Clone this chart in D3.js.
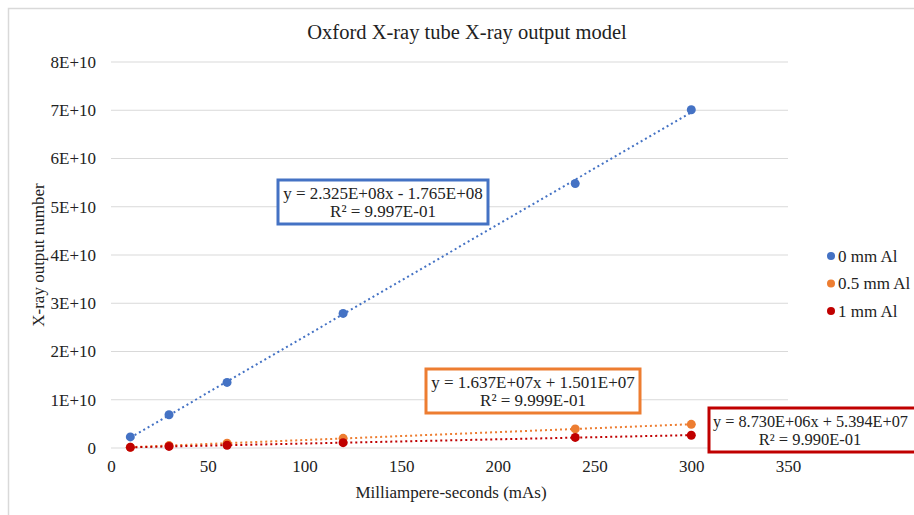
<!DOCTYPE html>
<html><head><meta charset="utf-8">
<script src="https://cdn.jsdelivr.net/npm/d3@7"></script>
<style>body{margin:0;background:#fff}svg{display:block}svg text{font-family:"Liberation Serif","DejaVu Serif",serif !important;fill:#222}</style>
</head><body><svg id="c" width="914" height="515"></svg>
<script>
const mas = [10, 30, 60, 120, 240, 300];
const seriesNames = ["0 mm Al", "0.5 mm Al", "1 mm Al"];
const seriesColors = ["#4472C4", "#ED7D31", "#C00000"];
const al0 = [2.3e9, 6.9e9, 13.6e9, 27.9e9, 54.8e9, 70.1e9];
const al05 = [0.17e9, 0.5e9, 1.0e9, 2.0e9, 3.95e9, 4.9e9];
const al1 = [0.13e9, 0.33e9, 0.57e9, 1.1e9, 2.2e9, 2.65e9];
const slopes = [2.325e8, 1.637e7, 8.730e6];
const intercepts = [-1.765e8, 1.501e7, 5.394e7];
const eqLabels = ["y = 2.325E+08x - 1.765E+08", "y = 1.637E+07x + 1.501E+07", "y = 8.730E+06x + 5.394E+07"];
const r2Labels = ["R² = 9.997E-01", "R² = 9.999E-01", "R² = 9.990E-01"];
const xTicks = [0, 50, 100, 150, 200, 250, 300, 350];
const yTicks = [0, 1e10, 2e10, 3e10, 4e10, 5e10, 6e10, 7e10, 8e10];
const yTickLabels = ["0", "1E+10", "2E+10", "3E+10", "4E+10", "5E+10", "6E+10", "7E+10", "8E+10"];

const FONT = "'Liberation Serif','DejaVu Serif',serif";
const svg = d3.select("#c");
const x = d3.scaleLinear().domain([0, 350]).range([111, 788]);
const y = d3.scaleLinear().domain([0, 8e10]).range([448, 62]);

svg.append("path").attr("d", "M8.5,515 V8.5 H914").attr("fill", "none").attr("stroke", "#d9d9d9").attr("stroke-width", 1.5);

svg.append("g").selectAll("line").data(yTicks).join("line")
  .attr("x1", x(0)).attr("x2", x(350)).attr("y1", d => y(d)).attr("y2", d => y(d))
  .attr("stroke", "#d9d9d9").attr("stroke-width", 1);

const yAxis = svg.append("g").attr("transform", `translate(${x(0)},0)`)
  .call(d3.axisLeft(y).tickValues(yTicks).tickFormat((d, i) => yTickLabels[i]).tickSize(0).tickPadding(15));
yAxis.attr("font-family", null).attr("font-size", null);
yAxis.select(".domain").remove();
yAxis.selectAll("text").style("font-size", "17px").style("font-family", FONT).attr("fill", "#222");

const xAxis = svg.append("g").attr("transform", `translate(0,${y(0)})`)
  .call(d3.axisBottom(x).tickValues(xTicks).tickFormat(d3.format("d")).tickSize(0).tickPadding(12));
xAxis.attr("font-family", null).attr("font-size", null);
xAxis.select(".domain").remove();
xAxis.selectAll("text").style("font-size", "17px").style("font-family", FONT).attr("fill", "#222");

function txt(xp, yp, s, size, anchor) {
  return svg.append("text").attr("x", xp).attr("y", yp).attr("text-anchor", anchor || "middle")
    .style("font-size", size + "px").style("font-family", FONT).text(s);
}
txt(467, 39, "Oxford X-ray tube X-ray output model", 20.5);
txt(451, 498, "Milliampere-seconds (mAs)", 17);
svg.append("text").attr("transform", "translate(44,255) rotate(-90)").attr("text-anchor", "middle")
  .style("font-size", "17px").style("font-family", FONT).text("X-ray output number");

const allData = [al0, al05, al1];
allData.forEach((vals, i) => {
  const x0 = d3.min(mas), x1 = d3.max(mas);
  svg.append("line")
    .attr("x1", x(x0)).attr("y1", y(slopes[i] * x0 + intercepts[i]))
    .attr("x2", x(x1)).attr("y2", y(slopes[i] * x1 + intercepts[i]))
    .attr("stroke", seriesColors[i]).attr("stroke-width", 2).attr("stroke-dasharray", "2,3");
});
allData.forEach((vals, i) => {
  svg.append("g").selectAll("circle").data(vals).join("circle")
    .attr("cx", (d, j) => x(mas[j])).attr("cy", d => y(d)).attr("r", 4.5)
    .attr("fill", seriesColors[i]);
});

const boxes = [
  {x: 278, y: 180, w: 210, h: 44},
  {x: 426, y: 369, w: 214, h: 44},
  {x: 709, y: 408, w: 212, h: 44}
];
boxes.forEach((b, i) => {
  svg.append("rect").attr("x", b.x).attr("y", b.y).attr("width", b.w).attr("height", b.h)
    .attr("fill", "#fff").attr("stroke", seriesColors[i]).attr("stroke-width", 3);
  const cx = b.x + b.w / 2;
  if (i === 2) txt(b.x + 4, b.y + 19, eqLabels[i], 16.3, "start");
  else txt(cx, b.y + 19, eqLabels[i], 17);
  txt(i === 2 ? cx - 5 : cx, b.y + 37, r2Labels[i], i === 2 ? 16.5 : 17);
});

seriesNames.forEach((n, i) => {
  const ly = 256 + i * 27.5;
  svg.append("circle").attr("cx", 831).attr("cy", ly).attr("r", 4).attr("fill", seriesColors[i]);
  txt(838, ly + 5.5, n, 17, "start");
});
</script></body></html>
